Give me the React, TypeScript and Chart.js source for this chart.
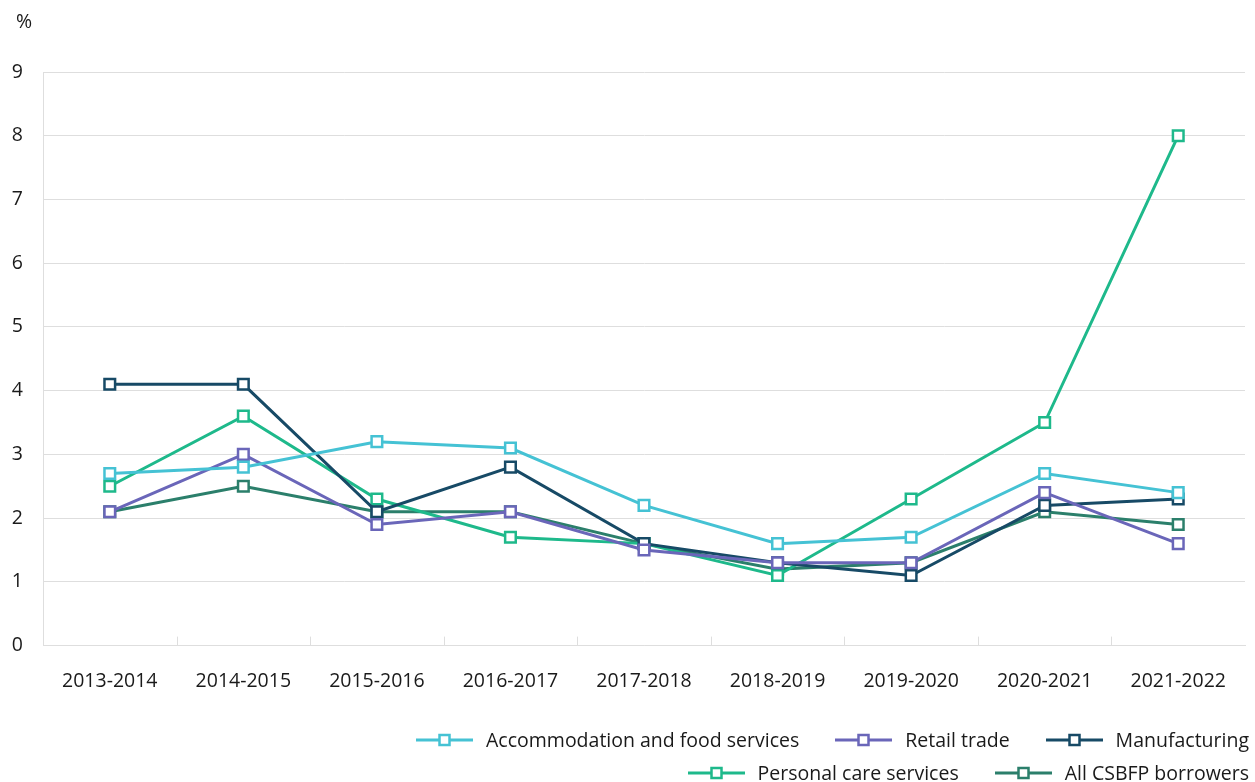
import React, { useEffect, useRef } from "react";
import { Chart, registerables } from "chart.js";

Chart.register(...registerables);

const periods = [
  "2013-2014",
  "2014-2015",
  "2015-2016",
  "2016-2017",
  "2017-2018",
  "2018-2019",
  "2019-2020",
  "2020-2021",
  "2021-2022",
];

const accommodation = [2.7, 2.8, 3.2, 3.1, 2.2, 1.6, 1.7, 2.7, 2.4];
const retail = [2.1, 3.0, 1.9, 2.1, 1.5, 1.3, 1.3, 2.4, 1.6];
const manufacturing = [4.1, 4.1, 2.1, 2.8, 1.6, 1.3, 1.1, 2.2, 2.3];
const personalCare = [2.5, 3.6, 2.3, 1.7, 1.6, 1.1, 2.3, 3.5, 8.0];
const allBorrowers = [2.1, 2.5, 2.1, 2.1, 1.6, 1.2, 1.3, 2.1, 1.9];

const yTicks = [0, 1, 2, 3, 4, 5, 6, 7, 8, 9];

const FONT = "'Open Sans', 'Liberation Sans', sans-serif";
const FONT_SIZE = 19.5;
const TEXT = "#1a1a1a";
const GRID = "#dedede";

const series = [
  { label: "Accommodation and food services", data: accommodation, color: "#45C2D4" },
  { label: "Retail trade", data: retail, color: "#6A66B9" },
  { label: "Manufacturing", data: manufacturing, color: "#174A66" },
  { label: "Personal care services", data: personalCare, color: "#1EB98B" },
  { label: "All CSBFP borrowers", data: allBorrowers, color: "#2B7F6B" },
];

const legendRows = [
  [series[0], series[1], series[2]],
  [series[3], series[4]],
];

// Unit label above the y axis and short inward category dividers on the x axis
const decorations = {
  id: "decorations",
  afterDraw(chart: any) {
    const { ctx, scales } = chart;
    const x = scales.x;
    const bottom = chart.chartArea.bottom;
    ctx.save();
    ctx.strokeStyle = GRID;
    ctx.lineWidth = 1;
    for (let i = 1; i < periods.length; i++) {
      const px = Math.round(x.getPixelForValue(i - 0.5)) + 0.5;
      ctx.beginPath();
      ctx.moveTo(px, bottom);
      ctx.lineTo(px, bottom - 9);
      ctx.stroke();
    }
    ctx.fillStyle = TEXT;
    ctx.font = `${FONT_SIZE}px ${FONT}`;
    ctx.textAlign = "left";
    ctx.textBaseline = "middle";
    ctx.fillText("%", 16, 22);
    ctx.restore();
  },
};

function LegendIcon({ color }: { color: string }) {
  return (
    <svg width={57} height={16} style={{ display: "block" }}>
      <line x1={0} y1={8} x2={57} y2={8} stroke={color} strokeWidth={3} />
      <rect x={23.5} y={3} width={10} height={10} fill="#fff" stroke={color} strokeWidth={2.5} />
    </svg>
  );
}

export default function App() {
  const canvasRef = useRef<HTMLCanvasElement | null>(null);

  useEffect(() => {
    document.body.style.margin = "0";
    const canvas = canvasRef.current;
    if (!canvas) return;
    const chart = new Chart(canvas, {
      type: "line",
      data: {
        labels: periods,
        datasets: series.map((s) => ({
          label: s.label,
          data: s.data,
          borderColor: s.color,
          backgroundColor: "#ffffff",
          borderWidth: 3,
          pointStyle: "rect",
          pointRadius: 7.5,
          pointHoverRadius: 7.5,
          pointBorderWidth: 2.5,
          pointBackgroundColor: "#ffffff",
          pointBorderColor: s.color,
          tension: 0,
        })),
      },
      options: {
        animation: false,
        responsive: false,
        maintainAspectRatio: false,
        layout: { padding: { top: 72, left: 12, right: 7, bottom: 65 } },
        plugins: {
          legend: { display: false },
          tooltip: { enabled: false },
          title: { display: false },
        },
        scales: {
          x: {
            offset: true,
            grid: { display: false, drawTicks: false },
            border: { display: true, color: GRID, width: 1 },
            ticks: {
              padding: 24,
              color: TEXT,
              font: { family: FONT, size: FONT_SIZE },
              maxRotation: 0,
              autoSkip: false,
            },
          },
          y: {
            min: 0,
            max: 9,
            afterBuildTicks: (scale: any) => {
              scale.ticks = yTicks.map((v) => ({ value: v }));
            },
            afterFit: (scale: any) => {
              scale.width = 31;
            },
            grid: { color: GRID, lineWidth: 1, drawTicks: false },
            border: { display: true, color: GRID, width: 1 },
            ticks: {
              padding: 20,
              color: TEXT,
              font: { family: FONT, size: FONT_SIZE },
            },
          },
        },
      },
      plugins: [decorations],
    });
    return () => chart.destroy();
  }, []);

  return (
    <div style={{ position: "relative", width: 1255, height: 782, background: "#fff" }}>
      <canvas ref={canvasRef} width={1255} height={782} style={{ display: "block" }} />
      <div
        style={{
          position: "absolute",
          right: 6,
          top: 727,
          display: "flex",
          flexDirection: "column",
          alignItems: "flex-end",
          gap: 8,
          fontFamily: FONT,
          fontSize: FONT_SIZE,
          color: TEXT,
        }}
      >
        {legendRows.map((row, ri) => (
          <div key={ri} style={{ display: "flex", alignItems: "center", gap: 36 }}>
            {row.map((s) => (
              <div key={s.label} style={{ display: "flex", alignItems: "center", gap: 13 }}>
                <LegendIcon color={s.color} />
                <span style={{ lineHeight: "25px", whiteSpace: "nowrap" }}>{s.label}</span>
              </div>
            ))}
          </div>
        ))}
      </div>
    </div>
  );
}
